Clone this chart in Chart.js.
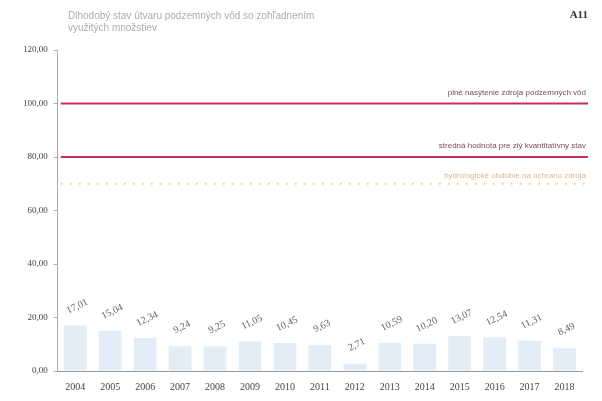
<!DOCTYPE html>
<html lang="sk">
<head>
    <meta charset="UTF-8">
    <title>Stav útvaru podzemných vôd</title>
    <style>
        body {
            margin: 0;
            padding: 0;
            background-color: #fff;
            font-family: "Liberation Serif", serif;
        }

        .wrap {
            position: relative;
            width: 602px;
            height: 401px;
        }

        .title {
            position: absolute;
            left: 68px;
            top: 10px;
            font-family: "Liberation Sans", Arial, sans-serif;
            font-size: 10px;
            line-height: 12px;
            color: #adadad;
        }

        .code {
            position: absolute;
            right: 14px;
            top: 8px;
            font-family: "Liberation Serif", serif;
            font-weight: bold;
            font-size: 11px;
            color: #333;
        }
    </style>
</head>
<body>
    <div class="wrap">
        <div class="title">Dlhodobý stav útvaru podzemných vôd so zohľadnením<br>využitých množstiev</div>
        <div class="code">A11</div>
        <canvas id="chart" width="602" height="401"></canvas>
    </div>

    <script src="https://cdn.jsdelivr.net/npm/chart.js"></script>
    <script>
        const years = ['2004', '2005', '2006', '2007', '2008', '2009', '2010', '2011',
                       '2012', '2013', '2014', '2015', '2016', '2017', '2018'];
        const values = [17.01, 15.04, 12.34, 9.24, 9.25, 11.05, 10.45, 9.63,
                        2.71, 10.59, 10.20, 13.07, 12.54, 11.31, 8.49];
        const yTicks = [0, 20, 40, 60, 80, 100, 120];

        // reference levels drawn across the plot
        const levelValues = [100, 80, 70];
        const levelTexts = [
            'plné nasýtenie zdroja podzemných vôd',
            'stredná hodnota pre zlý kvantitatívny stav',
            'hydrologické obdobie na ochranu zdroja'
        ];

        const fmt = (v) => v.toFixed(2).replace('.', ',');

        const levelLines = {
            id: 'levelLines',
            beforeDatasetsDraw(chart) {
                const { ctx, chartArea, scales } = chart;
                const y = scales.y;
                ctx.save();
                levelValues.forEach((val, i) => {
                    const py = y.getPixelForValue(val);
                    if (i < 2) {
                        ctx.strokeStyle = '#c3305f';
                        ctx.lineWidth = 2;
                        ctx.setLineDash([]);
                    } else {
                        ctx.strokeStyle = '#e6df7a';
                        ctx.lineWidth = 2;
                        ctx.setLineDash([2, 7]);
                    }
                    ctx.beginPath();
                    ctx.moveTo(chartArea.left + 3, py);
                    ctx.lineTo(chartArea.right + 6, py);
                    ctx.stroke();

                    ctx.setLineDash([]);
                    ctx.font = '8px "Liberation Sans", Arial, sans-serif';
                    ctx.textAlign = 'right';
                    ctx.textBaseline = 'bottom';
                    ctx.fillStyle = i < 2 ? '#7a4a60' : '#d8b890';
                    ctx.fillText(levelTexts[i], chartArea.right + 4, py - (i < 2 ? 7 : 4));
                });
                ctx.restore();
            }
        };

        // slanted value labels above the bars
        const barLabels = {
            id: 'barLabels',
            afterDatasetsDraw(chart) {
                const { ctx } = chart;
                const meta = chart.getDatasetMeta(0);
                ctx.save();
                ctx.font = '10px "Liberation Serif", serif';
                ctx.fillStyle = '#666';
                ctx.textAlign = 'center';
                ctx.textBaseline = 'middle';
                meta.data.forEach((bar, i) => {
                    ctx.save();
                    ctx.translate(bar.x + 2, bar.y - 19);
                    ctx.rotate(-0.45);
                    ctx.fillText(fmt(values[i]), 0, 0);
                    ctx.restore();
                });
                ctx.restore();
            }
        };

        new Chart(document.getElementById('chart'), {
            type: 'bar',
            data: {
                labels: years,
                datasets: [{
                    data: values,
                    backgroundColor: '#e2edf7',
                    borderWidth: 0,
                    barPercentage: 0.65,
                    categoryPercentage: 1
                }]
            },
            options: {
                responsive: false,
                animation: false,
                layout: { padding: { left: 17, top: 50, right: 20, bottom: 2 } },
                plugins: {
                    legend: { display: false },
                    tooltip: { enabled: false }
                },
                scales: {
                    x: {
                        grid: { display: false, drawTicks: true, tickLength: 4, color: '#999' },
                        border: { color: '#999' },
                        ticks: {
                            color: '#444',
                            font: { family: 'Liberation Serif', size: 10 },
                            maxRotation: 0,
                            padding: 6
                        }
                    },
                    y: {
                        min: 0,
                        max: 120,
                        afterBuildTicks(axis) {
                            axis.ticks = yTicks.map(v => ({ value: v }));
                        },
                        grid: { drawOnChartArea: false, tickLength: 4, color: '#aaa' },
                        border: { color: '#aaa' },
                        ticks: {
                            color: '#444',
                            font: { family: 'Liberation Serif', size: 9 },
                            padding: 6,
                            callback: (v) => fmt(v)
                        }
                    }
                }
            },
            plugins: [levelLines, barLabels]
        });
    </script>
</body>
</html>
